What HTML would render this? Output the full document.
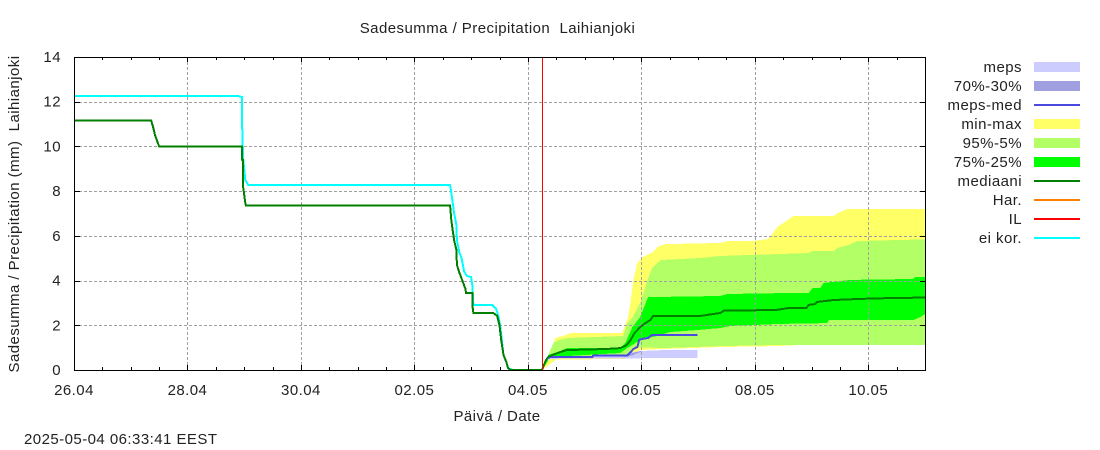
<!DOCTYPE html>
<html>
<head>
<meta charset="utf-8">
<title>Sadesumma / Precipitation Laihianjoki</title>
<style>
html,body{margin:0;padding:0;background:#fff;width:1100px;height:450px;overflow:hidden}
svg{display:block}
text{font-family:"Liberation Sans",sans-serif;font-size:15px;fill:#222;letter-spacing:.45px}
</style>
</head>
<body>
<svg id="chart" width="1100" height="450" viewBox="0 0 1100 450" xmlns="http://www.w3.org/2000/svg">
<text x="497.5" y="33" text-anchor="middle" xml:space="preserve">Sadesumma / Precipitation  Laihianjoki</text>
<text transform="translate(19,214) rotate(-90)" text-anchor="middle" xml:space="preserve">Sadesumma / Precipitation (mm)  Laihianjoki</text>
<text x="497" y="421" text-anchor="middle">Päivä / Date</text>
<text x="24" y="444" xml:space="preserve">2025-05-04 06:33:41 EEST</text>
</svg>
<script>
// Axis tick data
const yTicks = [0, 2, 4, 6, 8, 10, 12, 14];
const xTickDays = [0, 2, 4, 6, 8, 10, 12, 14];
const xTickLabels = ['26.04', '28.04', '30.04', '02.05', '04.05', '06.05', '08.05', '10.05'];
const xMax = 15;
const yMax = 14;
const minorStep = 0.5;

// Observed series (days since 26.04, mm)
const eiKorDays = [0,2.89,2.96,2.96,2.98,3.02,3.07,6.63,6.67,6.70,6.74,6.75,6.79,6.83,6.88,6.93,7.00,7.02,7.04,7.37,7.44,7.48,7.51,7.57,7.62,7.65,7.74,8.25];
const eiKorVals = [12.25,12.25,12.21,11.31,9.48,8.50,8.28,8.28,7.60,7.02,6.48,5.81,5.28,5.01,4.38,4.20,4.16,3.80,2.91,2.91,2.73,2.42,2.01,0.67,0.36,0.09,0,0];
const obsDays = [0,1.36,1.39,1.43,1.50,2.96,2.96,2.98,2.98,3.02,3.03,6.63,6.65,6.67,6.70,6.74,6.75,6.79,6.86,6.90,6.91,7.02,7.02,7.04,7.39,7.46,7.50,7.53,7.57,7.62,7.65,7.69,8.25];
const obsVals = [11.15,11.15,10.9,10.5,10,10,9.4,9.39,8.2,7.47,7.35,7.35,6.7,6.34,5.81,5.37,4.70,4.38,3.90,3.62,3.45,3.45,2.91,2.55,2.55,2.42,2.01,1.34,0.67,0.36,0.09,0,0];

// Forecast median
const medDays = [8.25,8.31,8.36,8.43,8.57,8.68,9.38,9.63,9.74,9.81,9.88,9.98,10.05,10.16,10.21,11.04,11.15,11.39,11.46,12.36,12.59,12.91,12.95,13.07,13.09,13.39,13.86,14.43,15];
const medVals = [0,0.40,0.58,0.67,0.80,0.89,0.94,0.98,1.12,1.34,1.65,1.92,2.06,2.24,2.42,2.42,2.46,2.55,2.66,2.68,2.77,2.77,2.91,2.95,3.04,3.13,3.18,3.22,3.24];

// MEPS median
const mepsMedDays = [8.34,8.40,9.14,9.15,9.75,9.81,9.86,9.93,9.96,10.02,10.12,10.19,10.99];
const mepsMedVals = [0.54,0.58,0.59,0.64,0.64,0.80,0.94,1.03,1.34,1.39,1.43,1.57,1.57];

// min-max band
const maxDays = [8.25,8.36,8.43,8.48,8.62,8.75,9.66,9.77,9.86,9.93,10.02,10.21,10.28,10.42,11.39,11.52,11.96,12.24,12.33,12.40,12.50,12.68,13.39,13.46,13.63,15];
const maxVals = [0,0.54,0.98,1.43,1.52,1.65,1.65,2.37,4.03,4.79,5.05,5.28,5.50,5.63,5.68,5.77,5.77,5.86,6.17,6.40,6.57,6.89,6.89,7.02,7.20,7.20];
const minDays = [8.25,8.50,9.72,9.84,9.98,10.34,10.86,11.39,12.40,12.80,15];
const minVals = [0,0.47,0.49,0.72,0.89,0.94,0.98,1.03,1.07,1.12,1.12];

// 95%-5% band
const p95Days = [8.25,8.45,8.54,8.71,9.68,9.75,9.84,9.98,10.11,10.19,10.34,10.69,11.04,11.39,12.45,12.93,13.03,13.39,13.46,13.65,13.81,15];
const p95Vals = [0,1.21,1.34,1.43,1.52,2.10,2.33,3.00,4.03,4.56,4.92,4.96,5.01,5.10,5.19,5.23,5.32,5.32,5.46,5.59,5.77,5.84];
const p5Days = [8.25,8.40,8.62,9.66,9.75,9.86,10.39,11.39,12.40,15];
const p5Vals = [0,0.54,0.54,0.58,0.67,1.03,0.98,1.07,1.12,1.12];

// 75%-25% band
const p75Days = [8.25,8.36,8.57,8.69,9.63,9.72,9.84,9.98,10.12,11.39,11.52,12.50,12.95,13.02,13.16,13.21,13.69,14.78,14.83,15];
const p75Vals = [0,0.67,0.85,0.98,0.98,1.21,1.92,2.37,3.26,3.31,3.40,3.44,3.44,3.67,3.67,3.89,4.03,4.07,4.16,4.16];
const p25Days = [8.25,8.40,9.63,9.75,9.98,10.21,10.51,10.99,11.39,11.57,12.45,13.28,13.30,14.80,14.92,15];
const p25Vals = [0,0.58,0.76,0.98,1.34,1.48,1.70,1.79,1.88,1.97,2.06,2.10,2.24,2.24,2.37,2.50];

// MEPS bands
const mepsTopDays = [8.31,8.40,9.66,9.84,9.98,10.39,10.99];
const mepsTopVals = [0.40,0.63,0.63,0.80,0.85,0.89,0.89];
const mepsBotDays = [8.31,8.40,10.99];
const mepsBotVals = [0.35,0.50,0.54];
const meps70Days = [9.70,9.84,9.98,10.00];
const meps70Vals = [0.60,0.75,0.85,0.85];
const meps30Days = [9.70,9.84,9.98,10.00];
const meps30Vals = [0.58,0.65,0.80,0.80];

// Analysis time marker (IL)
const ilDay = 8.25;

// Legend
const legendLabels = ['meps', '70%-30%', 'meps-med', 'min-max', '95%-5%', '75%-25%', 'mediaani', 'Har.', 'IL', 'ei kor.'];
const legendKinds = ['box', 'box', 'line', 'box', 'box', 'box', 'line', 'line', 'line', 'line'];
const legendColors = ['#ccccff', '#a0a0e0', '#4a4ae0', '#ffff66', '#b3ff66', '#00ff00', '#007f00', '#ff8000', '#ff0000', '#00ffff'];

const svg = document.getElementById('chart');
const NS = 'http://www.w3.org/2000/svg';
const L = 74, R = 925, T = 57, B = 370;
const xs = d => L + d * (R - L) / xMax;
const ys = v => B - v * (B - T) / yMax;
const px = v => Math.round(v) + 0.5;

function mk(tag, attrs, parent) {
  const el = document.createElementNS(NS, tag);
  for (const k in attrs) el.setAttribute(k, attrs[k]);
  (parent || svg).appendChild(el);
  return el;
}
function pts(days, vals) {
  return days.map((d, i) => xs(d).toFixed(1) + ',' + ys(vals[i]).toFixed(1));
}
function band(name, upD, upV, loD, loV, color) {
  const p = pts(upD, upV).concat(pts(loD, loV).reverse()).join(' ');
  const el = mk('polygon', {points: p, fill: color, stroke: 'none', 'shape-rendering': 'crispEdges'});
  
  
}
function line(name, days, vals, color) {
  const el = mk('polyline', {points: pts(days, vals).join(' '), fill: 'none', stroke: color, 'stroke-width': 2, 'stroke-linejoin': 'miter', 'shape-rendering': 'crispEdges'});
  
  
}

band('band-min-max', maxDays, maxVals, minDays, minVals, '#ffff66');
band('band-95-5', p95Days, p95Vals, p5Days, p5Vals, '#b3ff66');
band('band-75-25', p75Days, p75Vals, p25Days, p25Vals, '#00ff00');
band('band-meps', mepsTopDays, mepsTopVals, mepsBotDays, mepsBotVals, '#ccccff');
band('band-meps-70-30', meps70Days, meps70Vals, meps30Days, meps30Vals, '#a0a0e0');

// Grid
yTicks.forEach(v => {
  if (v === 0 || v === yMax) return;
  const g = mk('line', {x1: L, x2: R, y1: px(ys(v)), y2: px(ys(v)), stroke: '#a0a0a0', 'stroke-width': 1, 'stroke-dasharray': '3 2', 'shape-rendering': 'crispEdges'});
  
  
});
xTickDays.forEach(d => {
  if (d === 0) return;
  const g = mk('line', {x1: px(xs(d)), x2: px(xs(d)), y1: T, y2: B, stroke: '#a0a0a0', 'stroke-width': 1, 'stroke-dasharray': '3 2', 'shape-rendering': 'crispEdges'});
  
  
});

// Series lines
line('line-ei-kor', eiKorDays, eiKorVals, '#00ffff');
line('line-observed-median', obsDays, obsVals, '#007f00');
line('line-meps-med', mepsMedDays, mepsMedVals, '#4a4ae0');
line('line-mediaani', medDays, medVals, '#007f00');

const il = mk('line', {x1: px(xs(ilDay)), x2: px(xs(ilDay)), y1: T, y2: B, stroke: '#ff0000', 'stroke-width': 1, 'shape-rendering': 'crispEdges'});



// Border
const frame = mk('rect', {x: L + 0.5, y: T + 0.5, width: R - L, height: B - T, fill: 'none', stroke: '#000', 'stroke-width': 1, 'shape-rendering': 'crispEdges'});



// Y ticks + labels
yTicks.forEach(v => {
  const y = px(ys(v));
  const t1 = mk('line', {x1: L, x2: L + 6, y1: y, y2: y, stroke: '#000', 'shape-rendering': 'crispEdges'});
  
  
  const t2 = mk('line', {x1: R - 5, x2: R, y1: y, y2: y, stroke: '#000', 'shape-rendering': 'crispEdges'});
  
  
  const lab = mk('text', {x: 61, y: ys(v) + 5, 'text-anchor': 'end'});
  
  
  lab.textContent = v;
});

// X ticks
for (let d = 0; d <= xMax; d += minorStep) {
  const major = xTickDays.indexOf(d) >= 0;
  const len = major ? 5 : 3;
  const x = px(xs(d));
  const t1 = mk('line', {x1: x, x2: x, y1: B - len, y2: B, stroke: '#000', 'shape-rendering': 'crispEdges'});
  
  
  const t2 = mk('line', {x1: x, x2: x, y1: T, y2: T + len, stroke: '#000', 'shape-rendering': 'crispEdges'});
  
  
}
xTickDays.forEach((d, i) => {
  const lab = mk('text', {x: xs(d), y: 395, 'text-anchor': 'middle'});
  
  
  lab.textContent = xTickLabels[i];
});

// Legend
legendLabels.forEach((name, i) => {
  const cy = 67 + i * 19;
  const lab = mk('text', {x: 1022, y: cy + 5, 'text-anchor': 'end'});
  
  
  lab.textContent = name;
  let sw;
  if (legendKinds[i] === 'box') {
    sw = mk('rect', {x: 1034, y: cy - 5, width: 46, height: 10, fill: legendColors[i], 'shape-rendering': 'crispEdges'});
  } else {
    sw = mk('rect', {x: 1034, y: cy - 1, width: 46, height: 2, fill: legendColors[i], 'shape-rendering': 'crispEdges'});
  }
  
  
});
</script>
</body>
</html>
